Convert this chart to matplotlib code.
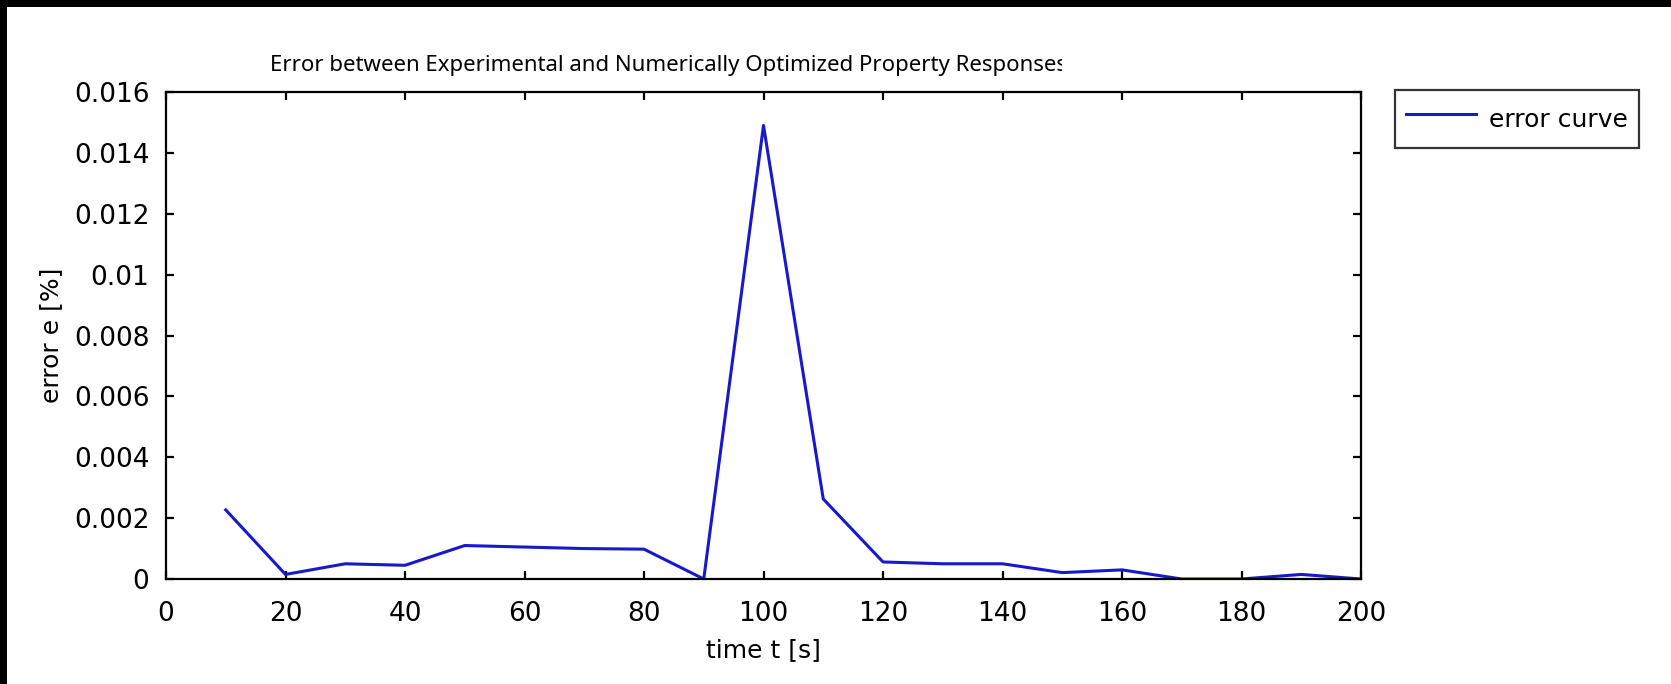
import matplotlib
matplotlib.use("Agg")
import matplotlib.pyplot as plt
from matplotlib.patches import Rectangle
from matplotlib.ticker import FuncFormatter, MultipleLocator

# data
time_s = [10, 20, 30, 40, 50, 60, 70, 80, 90, 100,
          110, 120, 130, 140, 150, 160, 170, 180, 190, 200]
error_pct = [0.00227, 0.00015, 0.0005, 0.00045, 0.0011, 0.00105, 0.001, 0.00098, 0.0, 0.0149,
             0.00263, 0.00056, 0.0005, 0.0005, 0.00021, 0.0003, 0.0, 0.0, 0.00015, 0.0]

title = "Error between Experimental and Numerically Optimized Property Responses"
W, H = 1671, 684

plt.rcParams["font.family"] = "DejaVu Sans"
fig = plt.figure(figsize=(W / 100, H / 100), dpi=100, facecolor="white")

# black bands along the top and the left edge
fig.patches.append(Rectangle((0, 1 - 7 / H), 1, 7 / H, transform=fig.transFigure,
                             facecolor="black", edgecolor="none", zorder=0))
fig.patches.append(Rectangle((0, 0), 7 / W, 1, transform=fig.transFigure,
                             facecolor="black", edgecolor="none", zorder=0))

ax = fig.add_axes([166 / W, 1 - 579 / H, (1361 - 166) / W, (579 - 92) / H])
ax.plot(time_s, error_pct, color="#1818cc", linewidth=2.2, label="error curve")

ax.set_xlim(0, 200)
ax.set_ylim(0, 0.016)
ax.xaxis.set_major_locator(MultipleLocator(20))
ax.yaxis.set_major_locator(MultipleLocator(0.002))
ax.yaxis.set_major_formatter(FuncFormatter(lambda v, p: f"{v:g}"))
ax.tick_params(direction="in", length=5.5, width=1.6, top=True, right=True,
               labelsize=19)
ax.tick_params(axis="x", pad=16)
ax.tick_params(axis="y", pad=12)
for s in ax.spines.values():
    s.set_linewidth(1.6)

ax.set_xlabel("time t [s]", fontsize=18, labelpad=8)
ax.set_ylabel("error e [%]", fontsize=18, labelpad=8)

# title is cut off at the right in the original
t = fig.text(270 / W, 1 - 71 / H, title, fontsize=16, family="Noto Sans",
             ha="left", va="baseline")
clip = Rectangle((0, 0), 1062 / W, 1, transform=fig.transFigure)
t.set_clip_path(clip)

leg = ax.legend(loc="upper left", bbox_to_anchor=(1395 / W, 1 - 90 / H),
                bbox_transform=fig.transFigure, fontsize=18, frameon=True,
                fancybox=False, borderaxespad=0, borderpad=0.45,
                handlelength=2.8, handleheight=1.8, handletextpad=0.5)
leg.get_frame().set_edgecolor("black")
leg.get_frame().set_linewidth(1.6)

fig.savefig("out.png", dpi=100)
